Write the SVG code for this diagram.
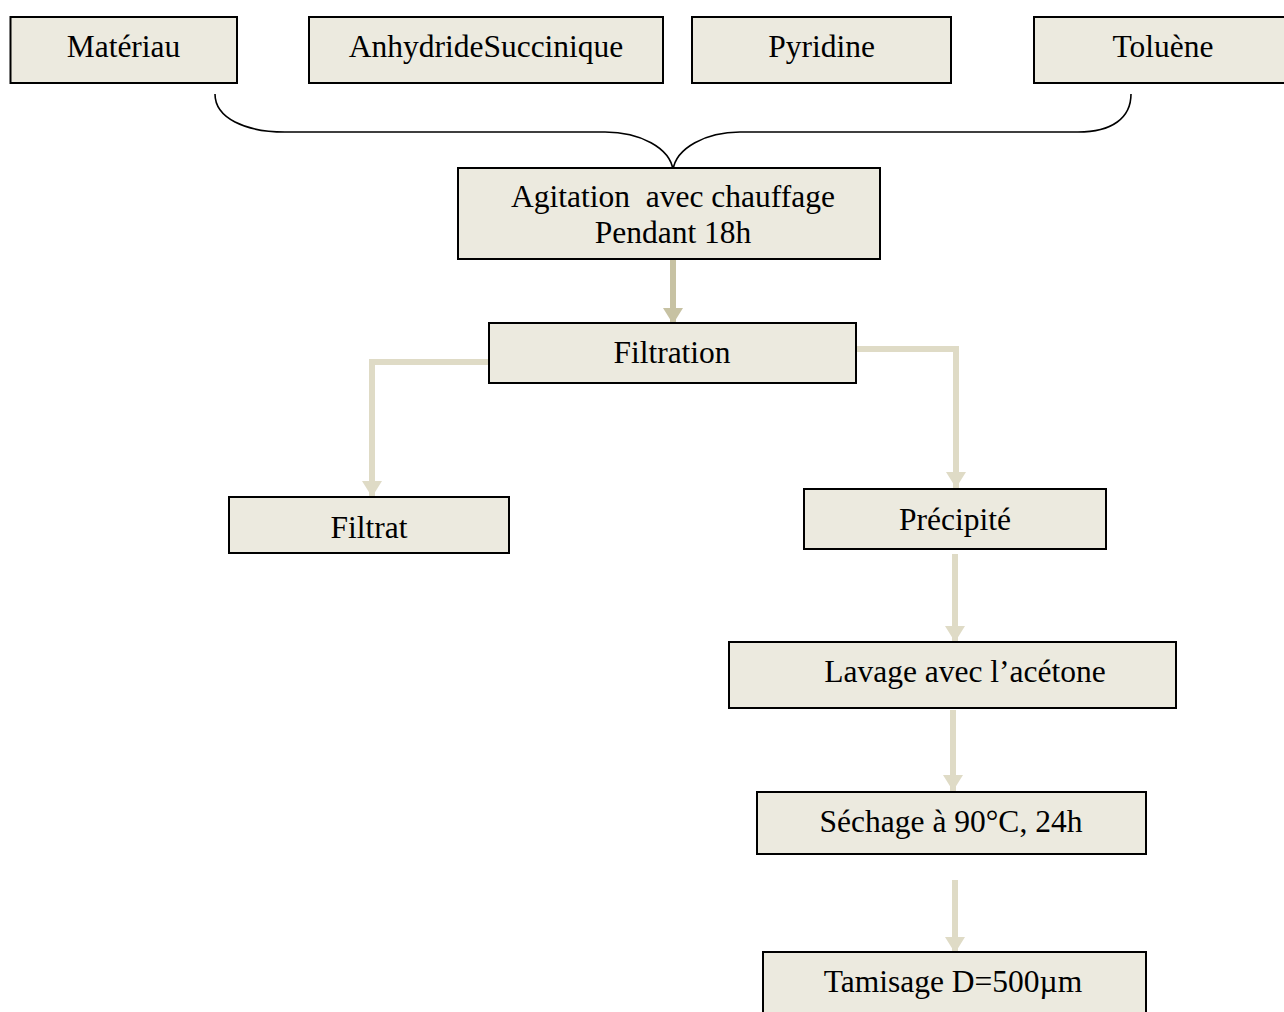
<svg xmlns="http://www.w3.org/2000/svg" width="1284" height="1012" viewBox="0 0 1284 1012">
<style>
.box{fill:#eceadf;stroke:#000;stroke-width:2}
.t{font-family:"Liberation Serif","Times New Roman",serif;font-size:31.5px;fill:#000;text-anchor:middle}
.pre{white-space:pre}
.c{fill:none;stroke:#dfdbc6;stroke-width:6}
.cd{fill:none;stroke:#c7c2a3;stroke-width:6}
.brace{fill:none;stroke:#000;stroke-width:1.6}
</style>
<defs>
<marker id="ah" markerUnits="userSpaceOnUse" markerWidth="16" markerHeight="20" refX="16" refY="10" orient="auto" viewBox="0 0 16 20">
<path d="M0,0 L16,10 L0,20 z" fill="#dfdbc6"/>
</marker>
<marker id="ahd" markerUnits="userSpaceOnUse" markerWidth="16" markerHeight="20" refX="16" refY="10" orient="auto" viewBox="0 0 16 20">
<path d="M0,0 L16,10 L0,20 z" fill="#c7c2a3"/>
</marker>
</defs>
<rect width="1284" height="1012" fill="#fff"/>
<g id="connectors">
<path class="brace" d="M215,94 C215,118 245,132 285,132 L605,132 C640,132 670,148 673,170 C676,148 706,132 740,132 L1078,132 C1112,132 1131,118 1131,94"/>
<path class="cd" d="M673,260 V324" marker-end="url(#ahd)"/>
<path class="c" d="M489,362 H372 V497" marker-end="url(#ah)"/>
<path class="c" d="M856,349 H956 V488" marker-end="url(#ah)"/>
<path class="c" d="M955,554 V642" marker-end="url(#ah)"/>
<path class="c" d="M953,710 V791" marker-end="url(#ah)"/>
<path class="c" d="M955,880 V953" marker-end="url(#ah)"/>
</g>
<g id="materiau"><rect class="box" x="10.5" y="17" width="226.5" height="66"/><text class="t" x="123.5" y="57">Matériau</text></g>
<g id="anhydride"><rect class="box" x="309" y="17" width="354" height="66"/><text class="t" x="486" y="57">AnhydrideSuccinique</text></g>
<g id="pyridine"><rect class="box" x="692" y="17" width="259" height="66"/><text class="t" x="821.5" y="57">Pyridine</text></g>
<g id="toluene"><rect class="box" x="1034" y="17" width="262" height="66"/><text class="t" x="1163" y="57">Toluène</text></g>
<g id="agitation"><rect class="box" x="458" y="168" width="422" height="91"/><text class="t pre" x="673" y="207" xml:space="preserve">Agitation  avec chauffage</text><text class="t" x="673" y="243">Pendant 18h</text></g>
<g id="filtration"><rect class="box" x="489" y="323" width="367" height="60"/><text class="t" x="672" y="363">Filtration</text></g>
<g id="filtrat"><rect class="box" x="229" y="497" width="280" height="56"/><text class="t" x="369" y="538">Filtrat</text></g>
<g id="precipite"><rect class="box" x="804" y="489" width="302" height="60"/><text class="t" x="955" y="530">Précipité</text></g>
<g id="lavage"><rect class="box" x="729" y="642" width="447" height="66"/><text class="t" x="965" y="682">Lavage avec l’acétone</text></g>
<g id="sechage"><rect class="box" x="757" y="792" width="389" height="62"/><text class="t" x="951" y="832">Séchage à 90°C, 24h</text></g>
<g id="tamisage"><rect class="box" x="763" y="952" width="383" height="70"/><text class="t" x="953" y="992">Tamisage D=500µm</text></g>
</svg>
